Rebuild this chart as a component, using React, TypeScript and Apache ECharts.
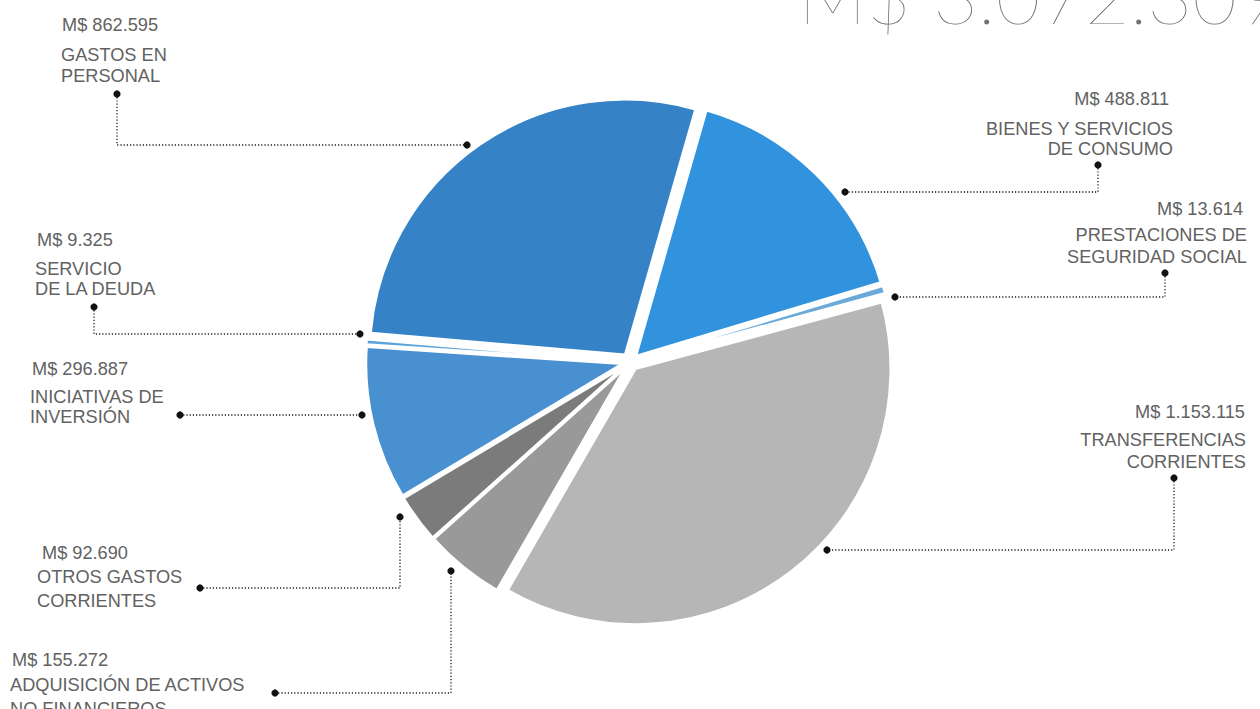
import React, { useEffect, useRef } from "react";
import * as echarts from "echarts";

// ---- data ----
const categories: string[] = [
  "BIENES Y SERVICIOS DE CONSUMO",
  "PRESTACIONES DE SEGURIDAD SOCIAL",
  "TRANSFERENCIAS CORRIENTES",
  "ADQUISICIÓN DE ACTIVOS NO FINANCIEROS",
  "OTROS GASTOS CORRIENTES",
  "INICIATIVAS DE INVERSIÓN",
  "SERVICIO DE LA DEUDA",
  "GASTOS EN PERSONAL",
];
const values: number[] = [488811, 13614, 1153115, 155272, 92690, 296887, 9325, 862595];
const nameLines: string[][] = [
  ["BIENES Y SERVICIOS", "DE CONSUMO"],
  ["PRESTACIONES DE", "SEGURIDAD SOCIAL"],
  ["TRANSFERENCIAS", "CORRIENTES"],
  ["ADQUISICIÓN DE ACTIVOS", "NO FINANCIEROS"],
  ["OTROS GASTOS", "CORRIENTES"],
  ["INICIATIVAS DE", "INVERSIÓN"],
  ["SERVICIO", "DE LA DEUDA"],
  ["GASTOS EN", "PERSONAL"],
];
const colors: string[] = [
  "#3193dd",
  "#6aa9d8",
  "#b6b6b6",
  "#999999",
  "#7b7b7b",
  "#4990d1",
  "#5ba3dd",
  "#3583c6",
];

// ---- annotation layout (positions of labels and leader lines) ----
type Ann = {
  align: "left" | "right";
  valueX: number;
  nameX: number;
  ys: number[];
  path: number[][];
};
const annotations: Ann[] = [
  { align: "right", valueX: 1169, nameX: 1173, ys: [98.5, 128.5, 149], path: [[1098, 165], [1098, 192], [845, 192]] },
  { align: "right", valueX: 1243, nameX: 1247, ys: [208.5, 235, 256.5], path: [[1165, 273], [1165, 297], [895, 297]] },
  { align: "right", valueX: 1245, nameX: 1246, ys: [411.5, 439.5, 461.5], path: [[1174, 478], [1174, 550], [827, 550]] },
  { align: "left", valueX: 12, nameX: 10, ys: [660, 685, 708.5], path: [[275, 693], [451, 693], [451, 571]] },
  { align: "left", valueX: 42, nameX: 37, ys: [552.5, 576.5, 601], path: [[200, 588], [400, 588], [400, 517]] },
  { align: "left", valueX: 32, nameX: 30, ys: [369, 396.5, 416.5], path: [[180, 415], [362, 415]] },
  { align: "left", valueX: 37, nameX: 35, ys: [240, 268.5, 289], path: [[94, 307], [94, 334], [360, 334]] },
  { align: "left", valueX: 62, nameX: 61, ys: [25, 55, 76], path: [[117, 94], [117, 145], [467, 145]] },
];

const fmt = (v: number) => "M$ " + String(v).replace(/\B(?=(\d{3})+(?!\d))/g, ".");
const total = values.reduce((a, b) => a + b, 0);

const LABEL_FONT = "'Liberation Sans', Arial, Helvetica, sans-serif";
const LABEL_COLOR = "#626262";

function buildGraphics(): any[] {
  const els: any[] = [];
  annotations.forEach((a, i) => {
    const texts = [fmt(values[i]), ...nameLines[i]];
    texts.forEach((t, k) => {
      els.push({
        type: "text",
        x: k === 0 ? a.valueX : a.nameX,
        y: a.ys[k],
        silent: true,
        style: {
          text: t,
          fill: LABEL_COLOR,
          fontSize: 18.2,
          fontFamily: LABEL_FONT,
          align: a.align,
          verticalAlign: "middle",
        },
      });
    });
    els.push({
      type: "polyline",
      silent: true,
      shape: { points: a.path },
      style: { stroke: "#1a1a1a", lineWidth: 1.3, lineDash: [1.2, 2], fill: null },
    });
    const first = a.path[0];
    const last = a.path[a.path.length - 1];
    [first, last].forEach((p) => {
      els.push({
        type: "circle",
        silent: true,
        shape: { cx: p[0], cy: p[1], r: 3.6 },
        style: { fill: "#111" },
      });
    });
  });
  els.push({
    type: "text",
    x: 798,
    y: -6,
    silent: true,
    style: {
      text: fmt(total),
      fill: "#707070",
      fontSize: 77,
      fontFamily: "Lato",
      fontWeight: 100,
      align: "left",
      verticalAlign: "middle",
    },
  });
  return els;
}

export default function App() {
  const ref = useRef<HTMLDivElement>(null);
  useEffect(() => {
    if (!ref.current) return;
    const chart = echarts.init(ref.current, null, { renderer: "svg" });
    chart.setOption({
      animation: false,
      backgroundColor: "#ffffff",
      series: [
        {
          type: "pie",
          center: [630, 362],
          radius: 255,
          startAngle: 74,
          clockwise: true,
          silent: true,
          selectedMode: "multiple",
          selectedOffset: 9,
          label: { show: false },
          labelLine: { show: false },
          emphasis: { disabled: true },
          itemStyle: { borderColor: "#ffffff", borderWidth: 2 },
          data: categories.map((name, i) => ({
            name,
            value: values[i],
            selected: true,
            itemStyle: { color: colors[i] },
          })),
        },
      ],
      graphic: buildGraphics(),
    });
    return () => chart.dispose();
  }, []);
  return (
    <div
      ref={ref}
      style={{ position: "absolute", left: 0, top: 0, width: 1260, height: 709 }}
    />
  );
}
